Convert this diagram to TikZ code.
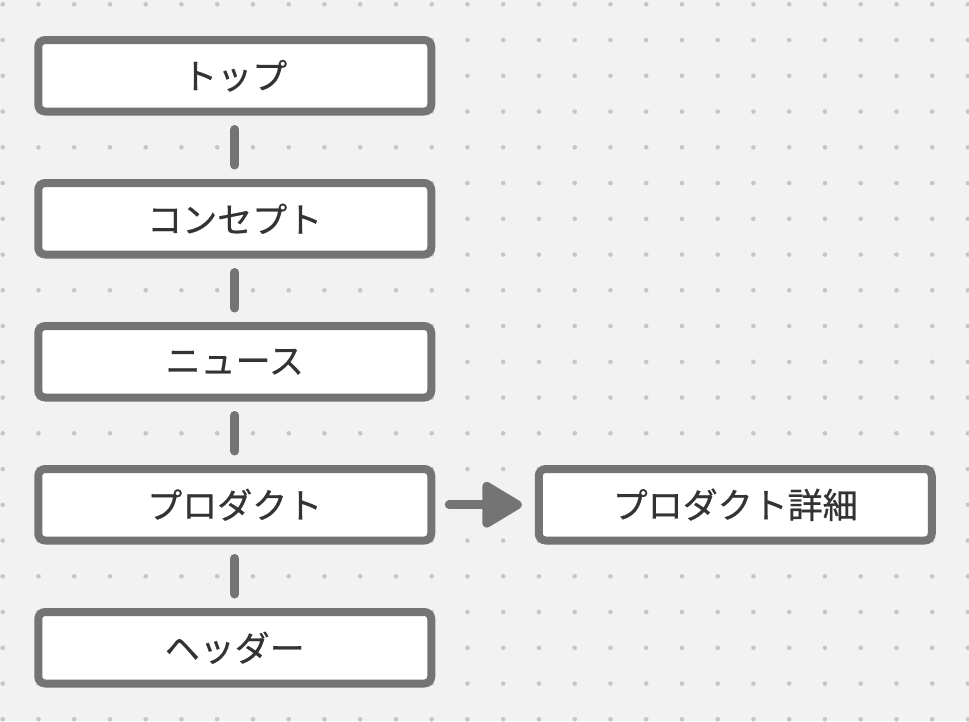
\documentclass[tikz,border=0pt]{standalone}
\usepackage{fontspec}
\newfontfamily\jpfont[FakeBold=0.6]{Noto Sans CJK JP}
\usetikzlibrary{positioning}
\usetikzlibrary{arrows.meta}
\definecolor{paper}{HTML}{F2F2F2}
\definecolor{griddot}{HTML}{C6C6C6}
\definecolor{frame}{HTML}{747474}
\definecolor{ink}{HTML}{333333}

\begin{document}
\begin{tikzpicture}[
    x=1pt, y=-1pt,
    node distance=71.5pt,
    block/.style={
      draw=frame,
      fill=white,
      line width=8pt,
      rounded corners=7pt,
      minimum width=393pt,
      minimum height=71.5pt,
      inner sep=0pt,
      outer sep=0pt,
      text=ink,
      font=\jpfont\fontsize{35}{40}\selectfont,
    },
    link/.style={
      draw=frame,
      line width=9pt,
      line cap=round,
      shorten <=18pt,
      shorten >=18pt,
    },
    jump/.style={
      link,
      shorten >=17pt,
      -{Triangle[length=44pt, width=50pt, round]},
    },
    ]
    % background with dot grid
    \fill[paper] (0,0) rectangle (969,721);
    \useasboundingbox (0,0) rectangle (969,721);
    \foreach \i in {0,...,27}
      \foreach \j in {0,...,20}
        \fill[griddot] (2.7+35.75*\i, 4.3+35.75*\j) circle (2.3pt);

    \node[block] at (234.75, 75.75) (top) {トップ};
    \node[block, below=of top] (concept) {コンセプト};
    \node[block, below=of concept] (news) {ニュース};
    \node[block, below=of news] (product) {プロダクト};
    \node[block, below=of product] (header) {ヘッダー};
    \node[block, right=107.5pt of product] (detail) {プロダクト詳細};

    \draw[link] (top.south) -- (concept.north);
    \draw[link] (concept.south) -- (news.north);
    \draw[link] (news.south) -- (product.north);
    \draw[link] (product.south) -- (header.north);
    \draw[jump] (product.east) -- (detail.west);
  \end{tikzpicture}
\end{document}
